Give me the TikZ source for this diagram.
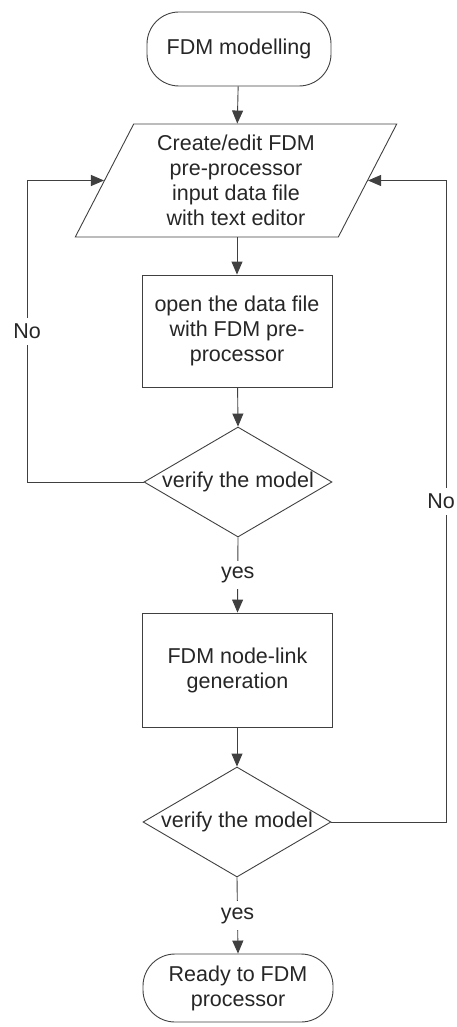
\documentclass[tikz,border=0pt]{standalone}
\usepackage{fontspec}
\setmainfont{Liberation Sans}
\usetikzlibrary{shapes.geometric,arrows.meta}

\tikzset{
  x=1pt, y=-1pt,
  every node/.style={font=\fontsize{21.5}{25}\selectfont, text=black!85},
  base/.style={draw=black!75, line width=0.9pt, align=center, inner sep=0pt},
  terminal/.style={base, rectangle, rounded corners=32pt},
  iobox/.style={base, trapezium, trapezium left angle=63.6, trapezium right angle=116.4,
    trapezium stretches=true, minimum width=322pt, minimum height=113pt},
  process/.style={base, rectangle, minimum width=190pt},
  decision/.style={base, diamond, aspect=1.7, minimum width=188pt, minimum height=110pt},
  flow/.style={draw=black!75, line width=0.9pt, -{Triangle[length=13pt,width=11pt]}},
  tag/.style={fill=white, inner sep=6pt}
}

\begin{document}
\begin{tikzpicture}
  \useasboundingbox (0,0) rectangle (457,1027);

  % flowchart steps
  \node[terminal, minimum width=184pt, minimum height=74pt] (start) at (239,49) {FDM modelling};
  \node[iobox] (edit) at (236,180.5) {Create/edit FDM\\pre-processor\\input data file\\with text editor};
  \node[process, minimum height=112pt] (open) at (237,331) {open the data file\\with FDM pre-\\processor};
  \node[decision] (check1) at (238,482) {verify the model};
  \node[process, minimum height=114pt] (gen) at (237.5,670) {FDM node-link\\generation};
  \node[decision] (check2) at (237,822) {verify the model};
  \node[terminal, minimum width=190pt, minimum height=68pt] (ready) at (238,988) {Ready to FDM\\processor};

  % turning points of the two feedback loops
  \coordinate (lx) at (27,0);
  \coordinate (rx) at (446,0);

  % main sequence
  \draw[flow] (start) -- (edit);
  \draw[flow] (edit.south -| open.north) -- (open);
  \draw[flow] (open) -- (check1.north);
  \draw[flow] (check1.south) -- node[tag] {yes} (gen.north);
  \draw[flow] (gen.south -| check2.north) -- (check2.north);
  \draw[flow] (check2.south) -- node[tag] {yes} (ready.north);

  % feedback loops back to the editing step
  \draw[flow] (check1.west) -- (check1.west -| lx) |- (edit.west)
    node[tag, pos=0.25] {No};
  \draw[flow] (check2.east) -- (check2.east -| rx) |- (edit.east)
    node[tag, pos=0.25, xshift=-5pt, inner xsep=2pt] {No};
\end{tikzpicture}
\end{document}
